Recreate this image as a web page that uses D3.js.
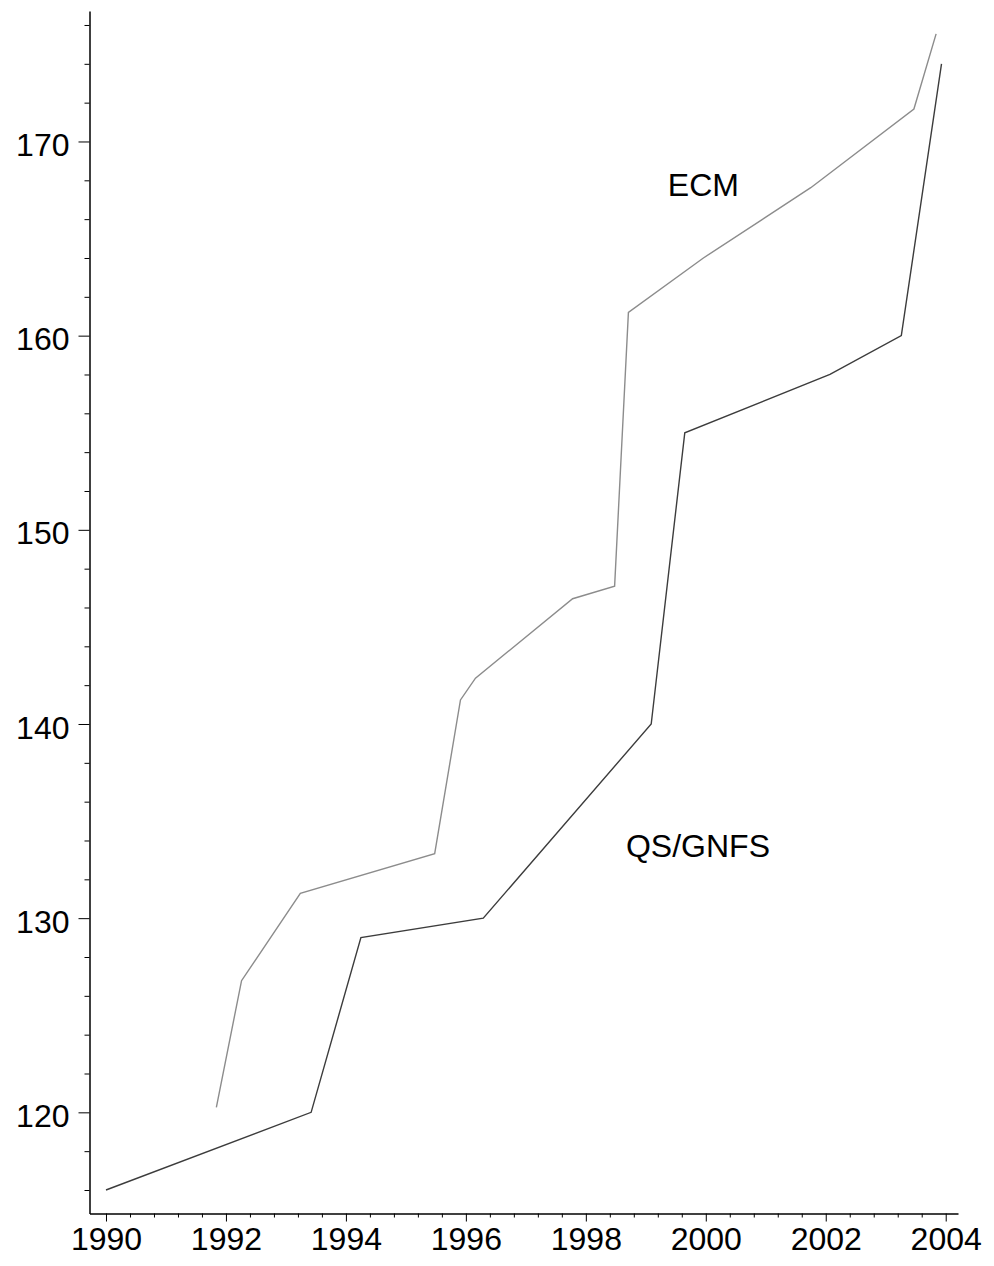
<!DOCTYPE html>
<html>
<head>
<meta charset="utf-8">
<script src="https://cdn.jsdelivr.net/npm/d3@7"></script>
<style>
  html, body { margin: 0; padding: 0; background: #fff; }
  svg { display: block; font-family: "Liberation Sans", Arial, sans-serif; }
</style>
</head>
<body>
<svg id="chart" width="994" height="1266"></svg>
<script>
// Record factorizations by year (digits)
const qsYears   = [1990.0, 1993.42, 1994.25, 1996.29, 1999.09, 1999.65, 2002.07, 2003.26, 2003.93];
const qsDigits  = [116.0, 120.0, 129.0, 130.0, 140.0, 155.0, 158.0, 160.0, 174.0];

const ecmYears  = [1991.84, 1992.26, 1993.24, 1995.48, 1995.91, 1996.16, 1997.78, 1998.48, 1998.71, 1999.96, 2001.75, 2003.47, 2003.84];
const ecmDigits = [120.26, 126.78, 131.28, 133.32, 141.24, 142.36, 146.45, 147.10, 161.20, 164.0, 167.62, 171.67, 175.54];

const xTickLabels = [1990, 1992, 1994, 1996, 1998, 2000, 2002, 2004];
const yTickLabels = [120, 130, 140, 150, 160, 170];

const seriesLabels = ["QS/GNFS", "ECM"];

const FONT = "'Liberation Sans', Arial, sans-serif";
const FS = 32;

const svg = d3.select("#chart");

const x = d3.scaleLinear().domain([1989.725, 2004.205]).range([89.5, 958]);
const y = d3.scaleLinear().domain([114.79, 176.72]).range([1213.5, 11]);

// minor ticks
const xMinor = d3.range(1990, 2004.21, 0.4).filter(v => !xTickLabels.some(t => Math.abs(t - v) < 1e-6));
const yMinor = d3.range(116, 177, 2).filter(v => v % 10 !== 0);

const gx = svg.append("g").attr("transform", `translate(0,${y.range()[0]})`);
gx.append("g")
  .call(d3.axisBottom(x).tickValues(xMinor).tickSize(4).tickSizeOuter(0).tickFormat(""))
  .call(g => g.select(".domain").remove())
  .call(g => g.selectAll("line").attr("stroke", "#000").attr("stroke-width", 1));
gx.append("g")
  .call(d3.axisBottom(x).tickValues(xTickLabels).tickSize(8).tickSizeOuter(0).tickFormat(d3.format("d")))
  .call(g => g.select(".domain").attr("stroke", "#000").attr("stroke-width", 1.5))
  .call(g => g.selectAll("line").attr("stroke", "#000").attr("stroke-width", 1))
  .call(g => g.selectAll("text").attr("font-size", FS).attr("fill", "#000").attr("y", 14).attr("dy", "0.71em")
    .attr("font-family", FONT));

const gy = svg.append("g").attr("transform", `translate(${x.range()[0]},0)`);
gy.append("g")
  .call(d3.axisLeft(y).tickValues(yMinor).tickSize(5).tickSizeOuter(0).tickFormat(""))
  .call(g => g.select(".domain").remove())
  .call(g => g.selectAll("line").attr("stroke", "#000").attr("stroke-width", 1));
gy.append("g")
  .call(d3.axisLeft(y).tickValues(yTickLabels).tickSize(11).tickSizeOuter(0).tickFormat(d3.format("d")))
  .call(g => g.select(".domain").attr("stroke", "#000").attr("stroke-width", 1.5))
  .call(g => g.selectAll("line").attr("stroke", "#000").attr("stroke-width", 1))
  .call(g => g.selectAll("text").attr("font-size", FS).attr("fill", "#000").attr("x", -20).attr("dy", "0.44em")
    .attr("font-family", FONT));

const line = d3.line().x(d => x(d[0])).y(d => y(d[1]));

svg.append("path")
  .datum(d3.zip(ecmYears, ecmDigits))
  .attr("fill", "none")
  .attr("stroke", "#8c8c8c")
  .attr("stroke-width", 1.4)
  .attr("d", line);

svg.append("path")
  .datum(d3.zip(qsYears, qsDigits))
  .attr("fill", "none")
  .attr("stroke", "#3c3c3c")
  .attr("stroke-width", 1.4)
  .attr("d", line);

// series labels
svg.append("text")
  .attr("x", x(1999.87)).attr("y", y(133.15))
  .attr("text-anchor", "middle").attr("font-size", FS).attr("fill", "#000")
  .attr("font-family", FONT)
  .text(seriesLabels[0]);
svg.append("text")
  .attr("x", x(1999.96)).attr("y", y(167.2))
  .attr("text-anchor", "middle").attr("font-size", FS).attr("fill", "#000")
  .attr("font-family", FONT)
  .text(seriesLabels[1]);
</script>
</body>
</html>
